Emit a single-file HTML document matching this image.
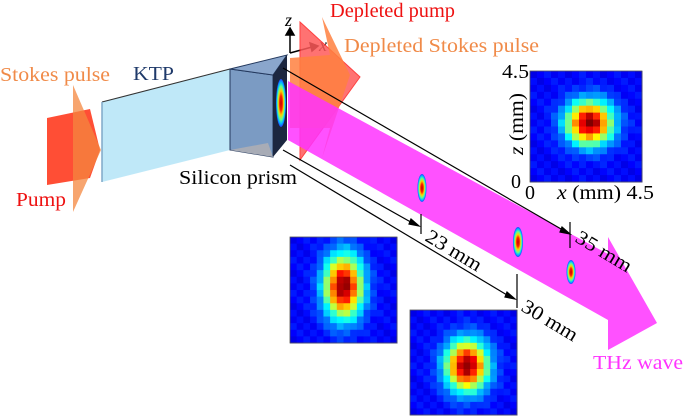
<!DOCTYPE html>
<html><head><meta charset="utf-8"><style>
body{margin:0;background:#fff;}
svg{display:block;}
svg text, svg tspan{font-family:"Liberation Serif","Times New Roman",Times,"DejaVu Serif",serif;}
</style></head><body>
<svg id="fig" width="685" height="418" viewBox="0 0 685 418">
<polygon points="47,118 90,109 100,150 90,178 47,185" fill="#ff3b1f" opacity="0.9"/>
<polygon points="73,85 101,150 73,212" fill="#f4873f" opacity="0.75"/>
<polygon points="102,102 230,69 230,150 102,182" fill="#bfe8f8"/>
<line x1="102" y1="102" x2="230" y2="69" stroke="#333" stroke-width="1"/>
<line x1="102" y1="102" x2="102" y2="182" stroke="#7fa8c8" stroke-width="1.5"/>
<g>
<polygon points="230,69 273,75 273,157 230,150" fill="#7b9bc3" stroke="#24395e" stroke-width="1"/>
<polygon points="230,69 287,55 273,75" fill="#8aa6cc" stroke="#24395e" stroke-width="1"/>
<polygon points="230,150 273,157 268,143" fill="#a8acb6"/>
<polygon points="273,75 287,55 287,140 273,157" fill="#1c2740"/>
</g>
<g stroke="#000" stroke-width="1.5" fill="#000">
<line x1="290" y1="53" x2="290" y2="33"/><polygon points="286,35 294,35 290,28"/>
<line x1="290" y1="53" x2="312" y2="47"/><polygon points="310,43 312,51 318,46"/>
</g>
<text x="285" y="26" font-size="18" font-style="italic">z</text>
<text x="319" y="51" font-size="18" font-style="italic">x</text>
<polygon points="300,22 360,77 300,160" fill="#ff5a5a" opacity="0.85" stroke="#ff2020"/>
<polygon points="290,58 330,55 322,17 350,75 322,158 330,128 290,128" fill="#ff8040" opacity="0.85"/>
<polygon points="288,81 608,254 608,237 657,323 608,350 608,320 288,140" fill="#ff33ff" opacity="0.85"/>
<defs>
<radialGradient id="jet" cx="50%" cy="50%" r="50%">
<stop offset="0" stop-color="#c00000"/><stop offset="0.3" stop-color="#ff2000"/><stop offset="0.5" stop-color="#ffd000"/><stop offset="0.7" stop-color="#60ff90"/><stop offset="0.85" stop-color="#00c0ff"/><stop offset="1" stop-color="#2040ff"/>
</radialGradient>
</defs>
<ellipse cx="281" cy="103" rx="5" ry="24" fill="url(#jet)"/>
<ellipse cx="422" cy="188" rx="4.5" ry="14" fill="url(#jet)"/>
<ellipse cx="518" cy="242" rx="5" ry="15" fill="url(#jet)"/>
<ellipse cx="571" cy="272" rx="4.5" ry="12" fill="url(#jet)"/>
<g stroke="#000" stroke-width="1.2" fill="#000">
<line x1="283" y1="68" x2="568" y2="233"/>
<polygon points="570,234 562,227 560,232"/>
<line x1="570" y1="222" x2="570" y2="248"/>
<line x1="283" y1="150" x2="416" y2="225"/>
<polygon points="419,226 411,219 409,224"/>
<line x1="421" y1="214" x2="421" y2="234"/>
<line x1="290" y1="165" x2="512" y2="298"/>
<polygon points="515,299 507,292 505,297"/>
<line x1="517" y1="274" x2="517" y2="308"/>
</g>
<text transform="translate(424,240) rotate(31)" font-size="20" textLength="62" lengthAdjust="spacingAndGlyphs">23 mm</text>
<text transform="translate(574,241) rotate(31)" font-size="20" textLength="62" lengthAdjust="spacingAndGlyphs">35 mm</text>
<text transform="translate(520,310) rotate(31)" font-size="20" textLength="62" lengthAdjust="spacingAndGlyphs">30 mm</text>
<g id="hm1"></g>
<g id="hm2"></g>
<g id="hm3"></g>
<text x="502" y="78" font-size="20" textLength="27" lengthAdjust="spacingAndGlyphs">4.5</text>
<text x="511" y="188" font-size="20">0</text>
<text x="525" y="199" font-size="20">0</text>
<text x="557" y="199" font-size="20" textLength="97" lengthAdjust="spacingAndGlyphs"><tspan font-style="italic">x</tspan> (mm) 4.5</text>
<text transform="translate(523,155) rotate(-90)" font-size="20" textLength="62" lengthAdjust="spacingAndGlyphs"><tspan font-style="italic">z</tspan> (mm)</text>
<text x="0" y="81" font-size="20" fill="#f08a48" textLength="110" lengthAdjust="spacingAndGlyphs">Stokes pulse</text>
<text x="133" y="80" font-size="20" fill="#1f3a6a" textLength="41" lengthAdjust="spacingAndGlyphs">KTP</text>
<text x="16" y="206" font-size="20" fill="#ee1111" textLength="50" lengthAdjust="spacingAndGlyphs">Pump</text>
<text x="179" y="184" font-size="20" fill="#000" textLength="118" lengthAdjust="spacingAndGlyphs">Silicon prism</text>
<text x="330" y="17" font-size="20" fill="#ee1111" textLength="125" lengthAdjust="spacingAndGlyphs">Depleted pump</text>
<text x="344" y="52" font-size="20" fill="#f08a48" textLength="195" lengthAdjust="spacingAndGlyphs">Depleted Stokes pulse</text>
<text x="593" y="369" font-size="20" fill="#ff33ff" textLength="90" lengthAdjust="spacingAndGlyphs">THz wave</text>
</svg>
<script>
const gridSize = 16;
const profCenters = [[8.5,7.5],[8,7.5],[8.5,8.5]];
const profSigmas = [[2.3,2.2],[2.0,3.3],[2.2,2.7]];
const boxes = [[530,71,112,111],[290,237,107,106],[410,310,107,105]];
function jet(v){
  v=Math.max(0,Math.min(1,v));
  const r=Math.max(0,Math.min(1,1.5-Math.abs(4*v-3)));
  const g=Math.max(0,Math.min(1,1.5-Math.abs(4*v-2)));
  const b=Math.max(0,Math.min(1,1.5-Math.abs(4*v-1)));
  return `rgb(${Math.round(r*255)},${Math.round(g*255)},${Math.round(b*255)})`;
}
const ns="http://www.w3.org/2000/svg";
["hm1","hm2","hm3"].forEach((id,k)=>{
  const g=document.getElementById(id);
  const [x0,y0,w,h]=boxes[k];
  const cw=w/gridSize, ch=h/gridSize;
  for(let i=0;i<gridSize;i++)for(let j=0;j<gridSize;j++){
    const dx=(i+0.5-profCenters[k][0])/profSigmas[k][0];
    const dy=(j+0.5-profCenters[k][1])/profSigmas[k][1];
    const jit=((i*7+j*13+k*5)%5)*0.012;
    const v=0.1+0.88*Math.exp(-(dx*dx+dy*dy)/2)+jit;
    const r=document.createElementNS(ns,"rect");
    
    
    r.setAttribute("x",x0+i*cw);r.setAttribute("y",y0+j*ch);
    r.setAttribute("width",cw+0.5);r.setAttribute("height",ch+0.5);
    r.setAttribute("fill",jet(v));
    g.appendChild(r);
  }
  const b=document.createElementNS(ns,"rect");
  
  
  b.setAttribute("x",x0);b.setAttribute("y",y0);b.setAttribute("width",w);b.setAttribute("height",h);
  b.setAttribute("fill","none");b.setAttribute("stroke","#555");b.setAttribute("stroke-width","0.8");
  g.appendChild(b);
});
</script>
</body></html>
